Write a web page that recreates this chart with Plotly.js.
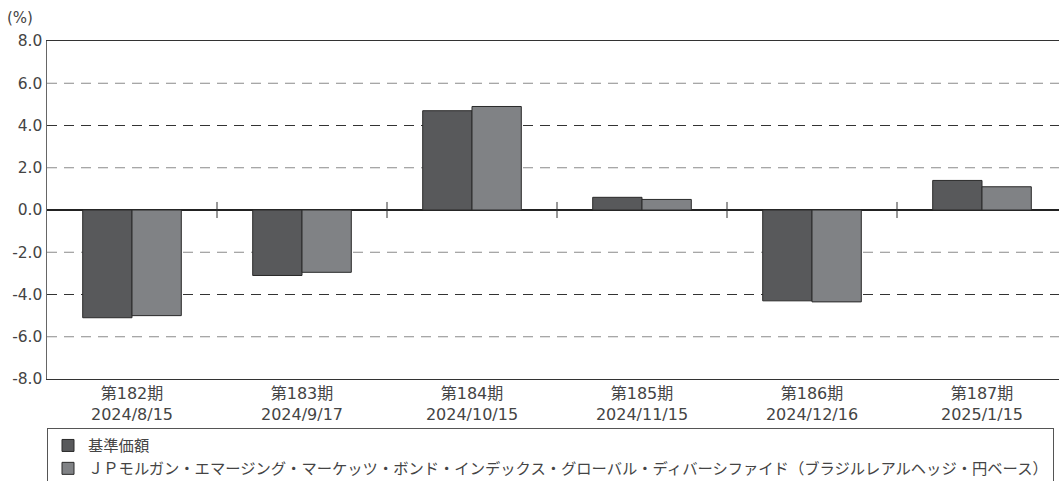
<!DOCTYPE html>
<html><head><meta charset="utf-8">
<script src="https://cdn.plot.ly/plotly-3.0.1.min.js"></script>
<style>html,body{margin:0;padding:0;overflow:hidden;background:#fff;}#chart{width:1067px;height:481px;}</style>
</head><body><div id="chart"></div>
<script>
const periods = ["第182期","第183期","第184期","第185期","第186期","第187期"];
const dates = ["2024/8/15","2024/9/17","2024/10/15","2024/11/15","2024/12/16","2025/1/15"];
const navValues = [-5.1, -3.1, 4.7, 0.6, -4.3, 1.4];
const benchValues = [-5.0, -2.95, 4.9, 0.5, -4.35, 1.1];
const seriesNames = ["基準価額","ＪＰモルガン・エマージング・マーケッツ・ボンド・インデックス・グローバル・ディバーシファイド（ブラジルレアルヘッジ・円ベース）"];
const yTicks = [-8, -6, -4, -2, 0, 2, 4, 6, 8];

const cats = periods.map((p,i)=>p+"<br>"+dates[i]);
const font = "'DejaVu Sans', 'Noto Sans CJK JP', sans-serif";
const jpFont = "'Noto Sans CJK JP', sans-serif";

const traces = [
  {type:'bar', x:cats, y:navValues, name:seriesNames[0], marker:{color:'#58595b', line:{color:'#2a2a2a', width:1}}},
  {type:'bar', x:cats, y:benchValues, name:seriesNames[1], marker:{color:'#808285', line:{color:'#2a2a2a', width:1}}}
];

const shapes = [];
yTicks.forEach((v,i)=>{
  if (v===0 || Math.abs(v)===8) return;
  const dark = (Math.abs(v)===4);
  shapes.push({type:'line', xref:'paper', yref:'y', x0:0, x1:1, y0:v, y1:v, layer:'below',
    line:{color: dark ? '#333' : '#8a8a8a', width:1, dash:'10px,7px'}});
});
for (let i=0;i<cats.length-1;i++){
  shapes.push({type:'line', xref:'x', yref:'y', x0:i+0.5, x1:i+0.5, y0:-0.38, y1:0.38,
    line:{color:'#333', width:1}});
}

const layout = {
  width:1067, height:481,
  margin:{l:47, r:0, t:41, b:102, autoexpand:false},
  paper_bgcolor:'#fff', plot_bgcolor:'#fff',
  font:{family:font, size:15, color:'#444'},
  barmode:'group', bargap:0.42, bargroupgap:0,
  showlegend:true,
  legend:{x:0, xanchor:'left', y:-0.145, yanchor:'top', orientation:'v',
    bordercolor:'#555', borderwidth:1, font:{family:jpFont, size:15.3, color:'#444'},
    tracegroupgap:0, itemwidth:30},
  xaxis:{type:'category', automargin:false, showline:true, linecolor:'#333', linewidth:1, mirror:true,
    showgrid:false, ticks:'', tickfont:{family:font, size:16, color:'#444'}, fixedrange:true},
  yaxis:{range:[-8,8], automargin:false, tickvals:yTicks, ticktext:yTicks.map(v=>v.toFixed(1)),
    showgrid:false, zeroline:true, zerolinecolor:'#222', zerolinewidth:1.3,
    showline:true, linecolor:'#666', linewidth:1.5, ticks:'',
    tickfont:{family:font, size:15.5, color:'#444'}, fixedrange:true},
  shapes:shapes,
  annotations:[{text:'(%)', xref:'paper', yref:'paper', x:-0.041, y:1.0, yshift:23, xanchor:'left', yanchor:'middle',
    showarrow:false, font:{family:font, size:15, color:'#444'}}]
};
Plotly.newPlot('chart', traces, layout, {displayModeBar:false, staticPlot:true});
</script></body></html>
